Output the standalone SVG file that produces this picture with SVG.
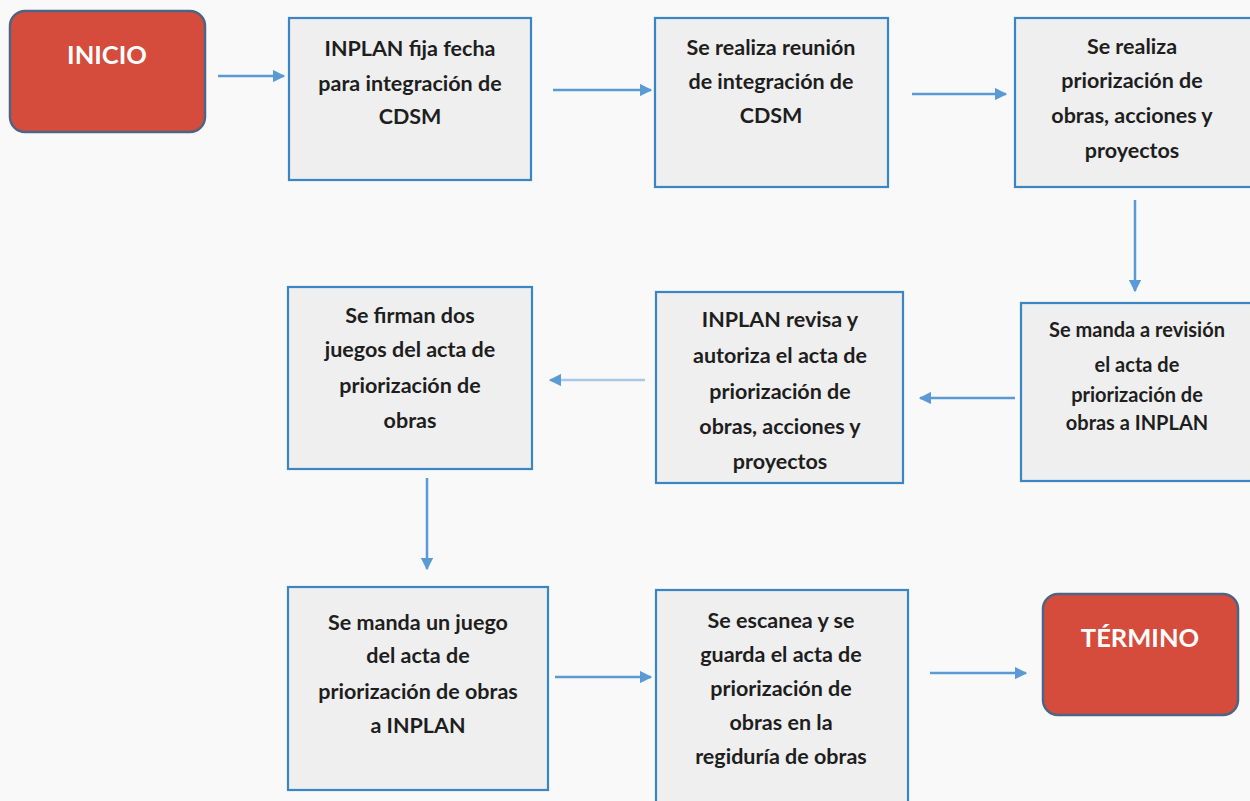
<svg xmlns="http://www.w3.org/2000/svg" width="1250" height="801" viewBox="0 0 1250 801">
<defs>
<marker id="ah" viewBox="0 0 10 10" refX="9" refY="5" markerWidth="5" markerHeight="5" orient="auto" markerUnits="strokeWidth">
<path d="M0,0 L10,5 L0,10 z" fill="#5b9bd5"/>
</marker>
<style>
.box{fill:#efefef;stroke:#3a86c4;stroke-width:2.2}
.term{fill:#d64c3c;stroke:#4b6584;stroke-width:2.5}
.t{font-family:Lato,"Open Sans","Liberation Sans",sans-serif;font-weight:bold;font-size:21.5px;fill:#1e1e1e;text-anchor:middle}
.s{font-size:20px}
.w{fill:#ffffff;font-size:25.5px}
.c{stroke:#5b9bd5;stroke-width:2.5;fill:none;marker-end:url(#ah)}
</style>
</defs>
<rect width="1250" height="801" fill="#f9f9f9"/>
<g id="connectors">
<line class="c" x1="218" y1="76" x2="284" y2="76"/>
<line class="c" x1="553" y1="90" x2="651" y2="90"/>
<line class="c" x1="912" y1="94" x2="1006" y2="94"/>
<line class="c" x1="1135" y1="200" x2="1135" y2="291"/>
<line class="c" x1="1015" y1="398" x2="920" y2="398"/>
<line class="c" x1="645" y1="380" x2="550" y2="380" style="stroke:#a9c8e8"/>
<line class="c" x1="427" y1="478" x2="427" y2="569"/>
<line class="c" x1="555" y1="677" x2="651" y2="677"/>
<line class="c" x1="930" y1="673" x2="1026" y2="673"/>
</g>
<g id="inicio">
<rect class="term" x="10" y="11" width="195" height="121" rx="15"/>
<text class="t w" x="107" y="64">INICIO</text>
</g>
<g id="n1">
<rect class="box" x="289" y="18" width="242" height="162"/>
<text class="t" x="410" y="56">INPLAN fija fecha</text>
<text class="t" x="410" y="91">para integración de</text>
<text class="t" x="410" y="124">CDSM</text>
</g>
<g id="n2">
<rect class="box" x="655" y="18" width="233" height="169"/>
<text class="t" x="771" y="55">Se realiza reunión</text>
<text class="t" x="771" y="89">de integración de</text>
<text class="t" x="771" y="123">CDSM</text>
</g>
<g id="n3">
<rect class="box" x="1015" y="18" width="240" height="169"/>
<text class="t" x="1132" y="54">Se realiza</text>
<text class="t" x="1132" y="88">priorización de</text>
<text class="t" x="1132" y="123">obras, acciones y</text>
<text class="t" x="1132" y="158">proyectos</text>
</g>
<g id="n4">
<rect class="box" x="1021" y="303" width="234" height="178"/>
<text class="t s" x="1137" y="337">Se manda a revisión</text>
<text class="t s" x="1137" y="372">el acta de</text>
<text class="t s" x="1137" y="402">priorización de</text>
<text class="t s" x="1137" y="430">obras a INPLAN</text>
</g>
<g id="n5">
<rect class="box" x="656" y="292" width="247" height="191"/>
<text class="t" x="780" y="327">INPLAN revisa y</text>
<text class="t" x="780" y="363">autoriza el acta de</text>
<text class="t" x="780" y="399">priorización de</text>
<text class="t" x="780" y="434">obras, acciones y</text>
<text class="t" x="780" y="469">proyectos</text>
</g>
<g id="n6">
<rect class="box" x="288" y="287" width="244" height="182"/>
<text class="t" x="410" y="323">Se firman dos</text>
<text class="t" x="410" y="357">juegos del acta de</text>
<text class="t" x="410" y="393">priorización de</text>
<text class="t" x="410" y="428">obras</text>
</g>
<g id="n7">
<rect class="box" x="288" y="587" width="260" height="203"/>
<text class="t" x="418" y="630">Se manda un juego</text>
<text class="t" x="418" y="663">del acta de</text>
<text class="t" x="418" y="699">priorización de obras</text>
<text class="t" x="418" y="733">a INPLAN</text>
</g>
<g id="n8">
<rect class="box" x="656" y="590" width="252" height="215"/>
<text class="t" x="781" y="628">Se escanea y se</text>
<text class="t" x="781" y="662">guarda el acta de</text>
<text class="t" x="781" y="696">priorización de</text>
<text class="t" x="781" y="730">obras en la</text>
<text class="t" x="781" y="764">regiduría de obras</text>
</g>
<g id="termino">
<rect class="term" x="1043" y="594" width="195" height="121" rx="15"/>
<text class="t w" x="1140" y="647">TÉRMINO</text>
</g>
</svg>
